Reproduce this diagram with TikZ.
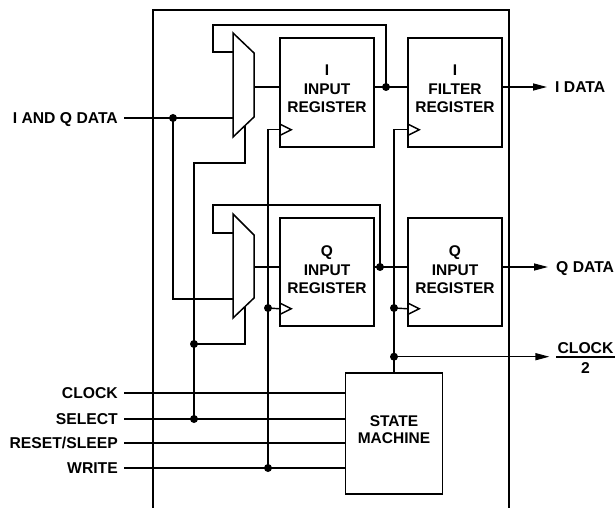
\documentclass[tikz,border=0pt]{standalone}
\usepackage{fontspec}
\setmainfont{Liberation Sans}
\usetikzlibrary{arrows.meta}
\begin{document}
\begin{tikzpicture}[x=1pt,y=-1pt,
  wire/.style={line width=1.4pt},
  chipline/.style={line width=2pt},
  regbox/.style={draw,line width=1.5pt,minimum width=94pt,minimum height=109pt,inner sep=0pt},
  txt/.style={font=\fontsize{15.5}{18.5}\selectfont\bfseries,align=center,inner sep=0pt},
  lbl/.style={font=\fontsize{15.7}{18}\selectfont\bfseries,inner sep=0pt,text height=11.2pt,text depth=0pt},
  dot/.style={circle,fill,inner sep=0pt,minimum size=8pt},
  outarrow/.style={wire,-{Triangle[length=14pt,width=7pt]}},
  muxshape/.style={line width=1.5pt}
]
\useasboundingbox (0,0) rectangle (616,508);
% chip outline
\draw[chipline] (153,508) -- (153,10) -- (509,10) -- (509,508);

% registers
\node[regbox] (ireg) at (327,92.5) {};
\node[regbox] (ifr) at (455,92.5) {};
\node[regbox,minimum height=108pt] (qreg) at (327,272) {};
\node[regbox,minimum height=108pt] (qfr) at (455,272) {};
\node[txt] (iregt) at (327,89) {I\\INPUT\\REGISTER};
\node[txt] (ifrt) at (455,89) {I\\FILTER\\REGISTER};
\node[txt] (qregt) at (327,270) {Q\\INPUT\\REGISTER};
\node[txt] (qfrt) at (455,270) {Q\\INPUT\\REGISTER};

% state machine
\node[draw,line width=1.5pt,minimum width=97pt,minimum height=121pt,inner sep=0pt] (sm) at (394,433.5) {};
\node[txt,font=\fontsize{15.5}{16.7}\selectfont\bfseries] (smt) at (394,430) {STATE\\MACHINE};

% multiplexers
\draw[muxshape] (233,33) -- (254,53) -- (254,117) -- (233,137) -- cycle;
\draw[muxshape] (233,214) -- (254,235) -- (254,298) -- (233,318) -- cycle;
\coordinate (imuxA) at (233,118);
\coordinate (imuxF) at (233,52);
\coordinate (imuxO) at (254,87);
\coordinate (imuxS) at (245,125.6);
\coordinate (qmuxA) at (233,299);
\coordinate (qmuxF) at (233,233);
\coordinate (qmuxO) at (254,267);
\coordinate (qmuxS) at (245,306.6);

% clock pins
\coordinate (iclk) at ([yshift=18pt]ireg.south west);
\coordinate (fclk) at ([yshift=18pt]ifr.south west);
\coordinate (qclk) at ([yshift=18pt]qreg.south west);
\coordinate (qfclk) at ([yshift=18pt]qfr.south west);
\foreach \c in {iclk,fclk,qclk,qfclk}{
  \draw[wire] (\c) ++(0,-6) -- ++(12,6) -- ++(-12,6);
}

% data input
\node[lbl,anchor=east] (iqin) at (118,118) {I AND Q DATA};
\draw[wire] ([xshift=6pt]iqin.east) -- (imuxA);
\node[dot] (d1) at (173,118) {};
\draw[wire] (d1.center) |- (qmuxA);

% I path
\draw[wire] (imuxO) -- (ireg.west |- imuxO);
\draw[wire] (ireg.east |- imuxO) -- (ifr.west |- imuxO);
\node[dot] (d2) at (386,87) {};
\draw[wire] (d2.center) -- (386,25) -| (213,52) -- (imuxF);
\node[lbl,anchor=west] (iout) at (555,87) {I DATA};
\draw[outarrow] (ifr.east |- imuxO) -- ([xshift=-8pt]iout.west);

% Q path
\draw[wire] (qmuxO) -- (qreg.west |- qmuxO);
\draw[wire] (qreg.east |- qmuxO) -- (qfr.west |- qmuxO);
\node[dot] (d9) at (380,267) {};
\draw[wire] (d9.center) -- (380,205) -| (213,233) -- (qmuxF);
\node[lbl,anchor=west] (qout) at (556,267) {Q DATA};
\draw[outarrow] (qfr.east |- qmuxO) -- ([xshift=-8pt]qout.west);

% select
\node[dot] (d3) at (194,344) {};
\node[dot] (d4) at (194,419) {};
\draw[wire] (imuxS) -- (245,163) -| (d4.center);
\draw[wire] (qmuxS) |- (d3.center);

% write -> input register clocks
\node[dot] (d5) at (268,308) {};
\node[dot] (d6) at (268,468) {};
\draw[wire] (d6.center) |- (iclk);
\draw[wire] (d5.center) -- (qclk);

% state machine -> filter clocks
\node[dot] (d7) at (394,308) {};
\node[dot] (d8) at (394,356.7) {};
\draw[wire] (sm.north) |- (fclk);
\draw[wire] (d7.center) -- (qfclk);
\node[lbl] (c2top) at (585.5,347.7) {CLOCK};
\node[lbl] (c2bot) at (585.5,367.7) {2};
\draw[wire] ([xshift=-1pt,yshift=-3.6pt]c2top.south west) -- ([xshift=1pt,yshift=-3.6pt]c2top.south east);
\draw[outarrow] (d8.center) -- ([xshift=-8pt]c2top.west |- d8);

% control inputs
\node[lbl,anchor=east] (clkin) at (118,393) {CLOCK};
\node[lbl,anchor=east] (selin) at (118,419) {SELECT};
\node[lbl,anchor=east] (rstin) at (118,443) {RESET/SLEEP};
\node[lbl,anchor=east] (wrin) at (118,468) {WRITE};
\foreach \n in {clkin,selin,rstin,wrin}{
  \draw[wire] ([xshift=6pt]\n.east) -- (sm.west |- \n);
}
\end{tikzpicture}
\end{document}
